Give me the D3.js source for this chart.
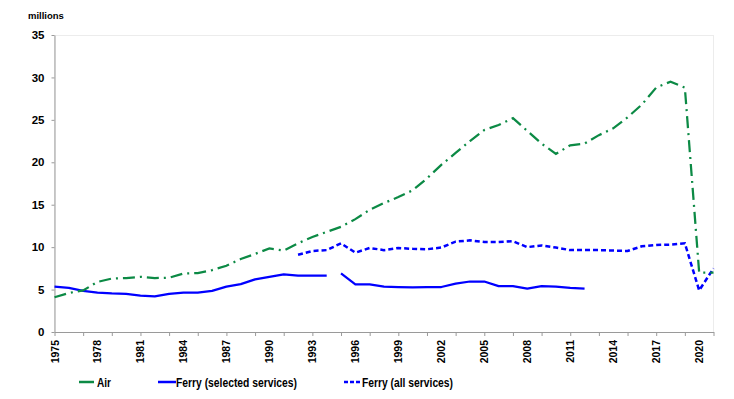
<!DOCTYPE html>
<html>
<head>
<meta charset="utf-8">
<script src="https://cdn.jsdelivr.net/npm/d3@7"></script>
<style>
  body { margin: 0; background: #fff; }
  svg { display: block; }
  text { font-family: "Liberation Sans", Arial, sans-serif; font-weight: bold; fill: #000; }
  .legend text { font-size: 12px; }
</style>
</head>
<body>
<svg id="chart"></svg>
<script>
// categories
var years = [1975, 1976, 1977, 1978, 1979, 1980, 1981, 1982, 1983, 1984,
             1985, 1986, 1987, 1988, 1989, 1990, 1991, 1992, 1993, 1994,
             1995, 1996, 1997, 1998, 1999, 2000, 2001, 2002, 2003, 2004,
             2005, 2006, 2007, 2008, 2009, 2010, 2011, 2012, 2013, 2014,
             2015, 2016, 2017, 2018, 2019, 2020, 2021];

// passengers, millions
var air = [4.1, 4.6, 4.9, 5.9, 6.3, 6.35, 6.5, 6.35, 6.4, 6.9,
           6.95, 7.3, 7.8, 8.6, 9.2, 9.85, 9.6, 10.45, 11.2, 11.8,
           12.4, 13.3, 14.4, 15.2, 15.9, 16.7, 18.1, 19.7, 21.1, 22.5,
           23.8, 24.4, 25.2, 23.7, 22.2, 21.0, 22.0, 22.2, 23.2, 24.0,
           25.3, 26.8, 28.8, 29.5, 28.8, 7.0, 7.0];

var ferrySelected = [5.35, 5.2, 4.85, 4.65, 4.55, 4.5, 4.3, 4.2, 4.5, 4.65,
                     4.65, 4.85, 5.35, 5.65, 6.2, 6.5, 6.8, 6.65, 6.65, 6.65,
                     6.9, 5.6, 5.6, 5.35, 5.3, 5.25, 5.3, 5.3, 5.7, 5.95,
                     5.95, 5.4, 5.4, 5.1, 5.4, 5.35, 5.2, 5.1, null, null,
                     null, null, null, null, null, null, null];
var ferrySelectedBreak = 1994; // series break between 1994 and 1995

var ferryAll = [null, null, null, null, null, null, null, null, null, null,
                null, null, null, null, null, null, null, 9.1, 9.55, 9.65,
                10.45, 9.35, 9.9, 9.65, 9.9, 9.8, 9.75, 9.95, 10.65, 10.8,
                10.6, 10.6, 10.7, 10.0, 10.2, 9.95, 9.65, 9.65, 9.65, 9.6,
                9.55, 10.1, 10.25, 10.3, 10.45, 4.9, 7.5];

var yTicks = [0, 5, 10, 15, 20, 25, 30, 35];
var xTickYears = [1975, 1977, 1979, 1981, 1983, 1985, 1987, 1989, 1991, 1993, 1995, 1997,
                  1999, 2001, 2003, 2005, 2007, 2009, 2011, 2013, 2015, 2017, 2019, 2021];
var xLabelYears = [1975, 1978, 1981, 1984, 1987, 1990, 1993, 1996, 1999, 2002,
                   2005, 2008, 2011, 2014, 2017, 2020];

var W = 734, H = 399;
var pLeft = 54.5, pRight = 713.5, pTop = 35, pBottom = 332;
var green = "#0c8a45", blue = "#0000ff";

var svg = d3.select("#chart").attr("width", W).attr("height", H);

var x = d3.scaleLinear().domain([1975, 2021]).range([pLeft, pRight]);
var y = d3.scaleLinear().domain([0, 35]).range([pBottom, pTop]);

// faint plot frame
svg.append("rect")
  .attr("x", pLeft).attr("y", pTop + 0.5)
  .attr("width", pRight - pLeft).attr("height", pBottom - pTop)
  .attr("fill", "none").attr("stroke", "#ececec").attr("stroke-width", 1);

// y axis
var yAxis = svg.append("g")
  .attr("transform", "translate(" + pLeft + ",0)")
  .call(d3.axisLeft(y).tickValues(yTicks).tickSize(3).tickPadding(7).tickSizeOuter(0));
yAxis.select(".domain").attr("stroke", "#9a9a9a");
yAxis.selectAll(".tick line").attr("stroke", "#9a9a9a");
yAxis.selectAll("text").style("font-size", "11.5px").attr("fill", "#000");

// x axis ticks
var xAxis = svg.append("g")
  .attr("transform", "translate(0," + pBottom + ")")
  .call(d3.axisBottom(x).tickValues(xTickYears).tickSize(4).tickFormat("").tickSizeOuter(0));
xAxis.select(".domain").attr("stroke", "#9a9a9a");
xAxis.selectAll(".tick line").attr("stroke", "#9a9a9a");

// x labels, rotated
svg.append("g").selectAll("text")
  .data(xLabelYears)
  .enter()
  .append("text")
  .attr("transform", function(d) {
    return "translate(" + (x(d) + 4) + "," + (pBottom + 8) + ") rotate(-90)";
  })
  .attr("text-anchor", "end")
  .style("font-size", "10.5px")
  .text(function(d) { return d; });

svg.append("text")
  .attr("x", 28).attr("y", 19)
  .style("font-size", "9.5px")
  .text("millions");

var line = d3.line()
  .defined(function(d) { return d.v != null; })
  .x(function(d) { return x(d.year); })
  .y(function(d) { return y(d.v); });

function pairs(vals, from, to) {
  return years.map(function(yr, i) { return { year: yr, v: vals[i] }; })
    .filter(function(d) { return d.year >= from && d.year <= to; });
}

svg.append("path")
  .datum(pairs(ferrySelected, 1975, ferrySelectedBreak))
  .attr("d", line)
  .attr("fill", "none").attr("stroke", blue).attr("stroke-width", 2.25)
  .attr("stroke-linejoin", "round");
svg.append("path")
  .datum(pairs(ferrySelected, ferrySelectedBreak + 1, 2021))
  .attr("d", line)
  .attr("fill", "none").attr("stroke", blue).attr("stroke-width", 2.25)
  .attr("stroke-linejoin", "round");

svg.append("path")
  .datum(pairs(ferryAll, 1975, 2021))
  .attr("d", line)
  .attr("fill", "none").attr("stroke", blue).attr("stroke-width", 2.5)
  .attr("stroke-dasharray", "5,3");

svg.append("path")
  .datum(pairs(air, 1975, 2021))
  .attr("d", line)
  .attr("fill", "none").attr("stroke", green).attr("stroke-width", 2.25)
  .attr("stroke-dasharray", "12,5,2,5");

// legend
var legendItems = [
  { name: "Air", color: green, dash: null, x1: 79, x2: 94, tx: 97, len: 14 },
  { name: "Ferry (selected services)", color: blue, dash: null, x1: 158, x2: 176, tx: 176, len: 121 },
  { name: "Ferry (all services)", color: blue, dash: "4,2", x1: 344, x2: 362, tx: 362, len: 91 }
];
var legend = svg.append("g").attr("class", "legend");
legendItems.forEach(function(it) {
  legend.append("line")
    .attr("x1", it.x1).attr("x2", it.x2).attr("y1", 382).attr("y2", 382)
    .attr("stroke", it.color).attr("stroke-width", 2.5)
    .attr("stroke-dasharray", it.dash);
  legend.append("text")
    .attr("x", it.tx).attr("y", 386.5)
    .attr("textLength", it.len)
    .attr("lengthAdjust", "spacingAndGlyphs")
    .text(it.name);
});
</script>
</body>
</html>
